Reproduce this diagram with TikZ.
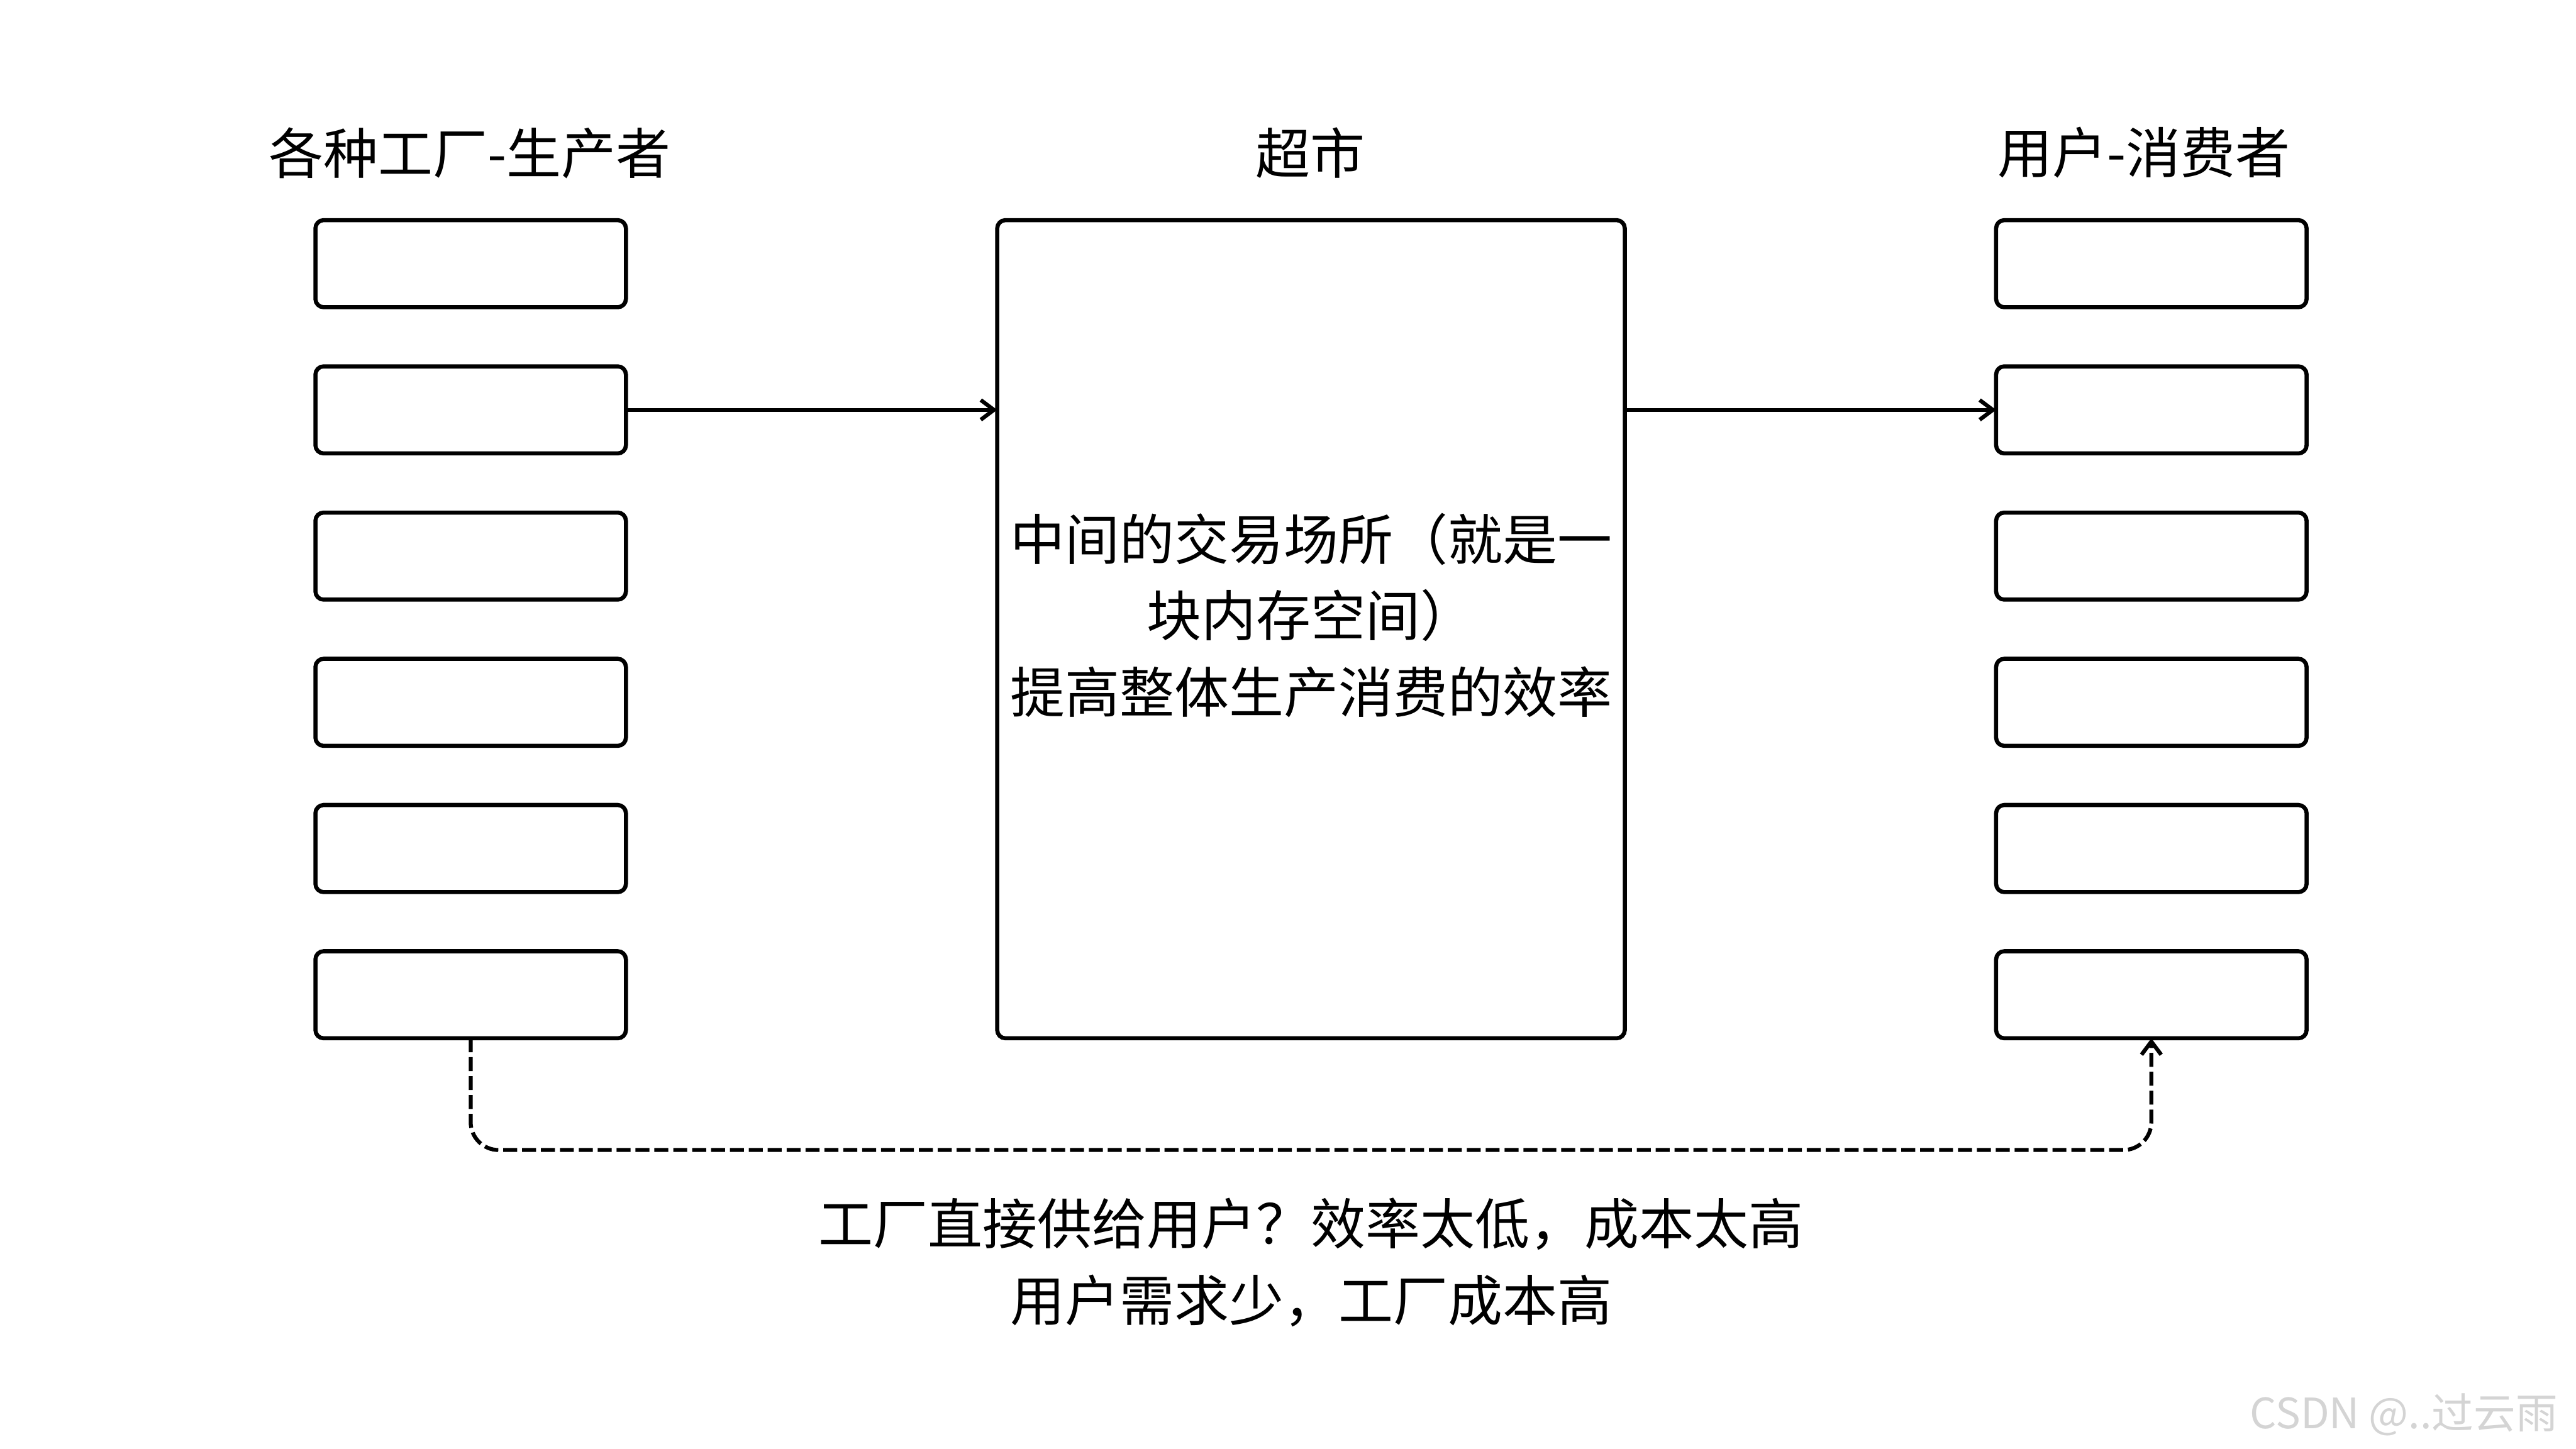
\documentclass[tikz,border=0pt]{standalone}
\usepackage{fontspec}
\setmainfont{Noto Sans CJK SC}
\usetikzlibrary{arrows.meta}
\begin{document}
\begin{tikzpicture}[x=1pt,y=-1pt,
  slot/.style={draw,line width=2.5pt,rounded corners=5pt,minimum width=189pt,minimum height=53pt,inner sep=0pt,outer sep=0pt},
  bigbox/.style={draw,line width=2.5pt,rounded corners=5pt,minimum width=382pt,minimum height=498pt,inner sep=0pt,outer sep=0pt},
  txt/.style={inner sep=0pt,font=\fontsize{33.3}{46.5}\selectfont,align=center},
  conn/.style={line width=2.4pt,-{Straight Barb[length=8pt,width=12pt,line width=2.4pt]}},
  dconn/.style={conn,dash pattern=on 8.5pt off 3pt,rounded corners=17pt},
  wm/.style={inner sep=0pt,text=black!17,font=\fontsize{25.5}{25.5}\selectfont}]
\useasboundingbox[fill=white] (0,0) rectangle (1568,882);
\foreach \i in {1,...,6}{
  \node[slot] (f\i) at (286.5,{160.5+89*(\i-1)}) {};
  \node[slot] (c\i) at (1309.5,{160.5+89*(\i-1)}) {};
}
\node[bigbox] (market) at (798,383) {};
\node[txt] (lt) at (286,93) {各种工厂-生产者};
\node[txt] (mt) at (797.5,93) {超市};
\node[txt] (rt) at (1305,93) {用户-消费者};
\node[txt] (mtext) at (798,374.5) {中间的交易场所（就是一\\块内存空间）\\提高整体生产消费的效率};
\node[txt] (note) at (798,768.5) {工厂直接供给用户？效率太低，成本太高\\用户需求少，工厂成本高};
\node[wm,anchor=east] (wmk) at (1557,861) {CSDN @..过云雨};
\coordinate (dd) at (0,700);
\draw[conn] (f2.east) -- (f2.east -| market.west);
\draw[conn] (c2.west -| market.east) -- (c2.west);
\draw[dconn] (f6.south) -- (f6.south |- dd) -| (c6.south);
\end{tikzpicture}
\end{document}
